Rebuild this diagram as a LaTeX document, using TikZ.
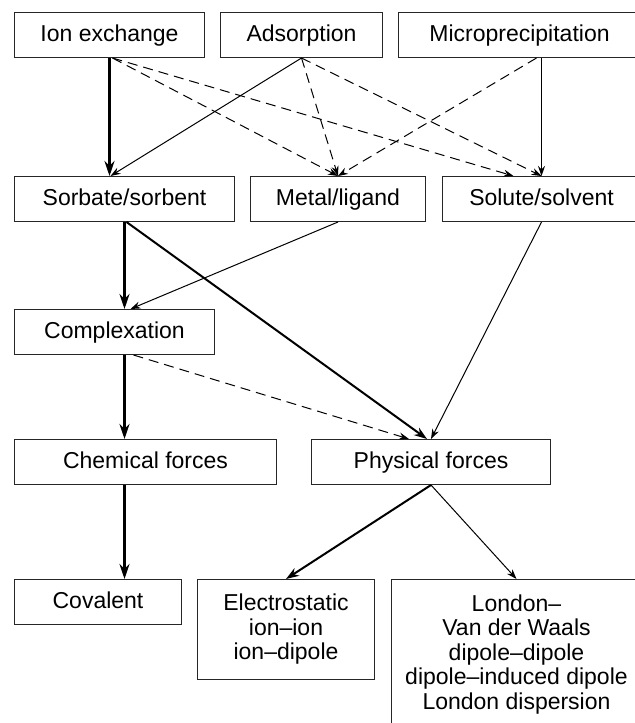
\documentclass[tikz,border=0pt]{standalone}
\usepackage{fontspec}
\setmainfont{Liberation Sans}
\usepackage{tikz}
\usetikzlibrary{arrows.meta,positioning}

\begin{document}
\begin{tikzpicture}[
  x=1pt, y=1pt,
  node distance=7.5pt,
  every node/.style={font=\fontsize{11.5}{12.25}\selectfont, align=center},
  box/.style={rectangle, draw=black!85, line width=0.5pt, minimum height=22.5pt, inner sep=2pt},
  stage/.style={box, text height=8.5pt, text depth=2.5pt},
  main/.style={draw, -{Stealth[length=7.5pt, width=5pt]}, line width=1.6pt},
  strong/.style={draw, -{Stealth[length=6.5pt, width=4.5pt]}, line width=1pt},
  weak/.style={draw, -{Stealth[length=5pt, width=3.5pt]}, line width=0.5pt},
  loose/.style={weak, dash pattern=on 5pt off 3pt}
]
  \useasboundingbox (0,0) rectangle (317,-361.5);

  \node[stage, minimum width=95pt, anchor=north west] (ionx) at (7,-6) {Ion exchange};
  \node[stage, minimum width=81pt, right=of ionx] (adsorp) {Adsorption};
  \node[stage, minimum width=121pt, right=of adsorp] (micro) {Microprecipitation};

  \node[stage, minimum width=110pt, below right=59pt and 0pt of ionx.south west] (sorb) {Sorbate/sorbent};
  \node[stage, minimum width=87.5pt, right=of sorb] (metal) {Metal/ligand};
  \node[stage, minimum width=99pt, right=8pt of metal] (solute) {Solute/solvent};

  \node[stage, minimum width=100pt, below right=43.5pt and 0pt of sorb.south west] (cplx) {Complexation};

  \node[stage, minimum width=131pt, below right=42pt and 0pt of cplx.south west] (chem) {Chemical forces};
  \node[stage, minimum width=119.5pt, right=17pt of chem] (phys) {Physical forces};

  \node[stage, minimum width=83.5pt, below right=47pt and 0pt of chem.south west] (cov) {Covalent};
  \node[box, minimum width=88.5pt, minimum height=50pt, right=7.5pt of cov.north east, anchor=north west] (elec) {Electrostatic\\ion–ion\\ion–dipole};
  \node[box, minimum width=125pt, minimum height=75pt, right=8pt of elec.north east, anchor=north west] (london) {London–\\Van der Waals\\dipole–dipole\\dipole–induced dipole\\London dispersion};

  \draw[main] (ionx.south) -- (ionx.south |- sorb.north);
  \draw[loose] ([xshift=1.5pt]ionx.south) -- (metal.north);
  \draw[loose] ([xshift=1.5pt]ionx.south) -- ([xshift=-14pt]solute.north);
  \draw[weak] (adsorp.south) -- ([xshift=-7pt]sorb.north);
  \draw[loose] (adsorp.south) -- (metal.north);
  \draw[loose] (adsorp.south) -- (solute.north);
  \draw[loose] ([xshift=8.5pt]micro.south) -- (metal.north);
  \draw[weak] (micro.south -| solute.north) -- (solute.north);

  \draw[main] (sorb.south) -- (sorb.south |- cplx.north);
  \draw[strong] ([xshift=1pt]sorb.south) -- ([xshift=-2pt]phys.north);
  \draw[weak] (metal.south) -- ([xshift=8pt]cplx.north);
  \draw[weak] (solute.south) -- (phys.north);

  \draw[main] (sorb.south |- cplx.south) -- (sorb.south |- chem.north);
  \draw[loose] ([xshift=9.5pt]cplx.south) -- ([xshift=-11pt]phys.north);

  \draw[main] (sorb.south |- chem.south) -- (sorb.south |- cov.north);
  \draw[strong] (phys.south) -- (elec.north);
  \draw[weak] (phys.south) -- (london.north);
\end{tikzpicture}
\end{document}
